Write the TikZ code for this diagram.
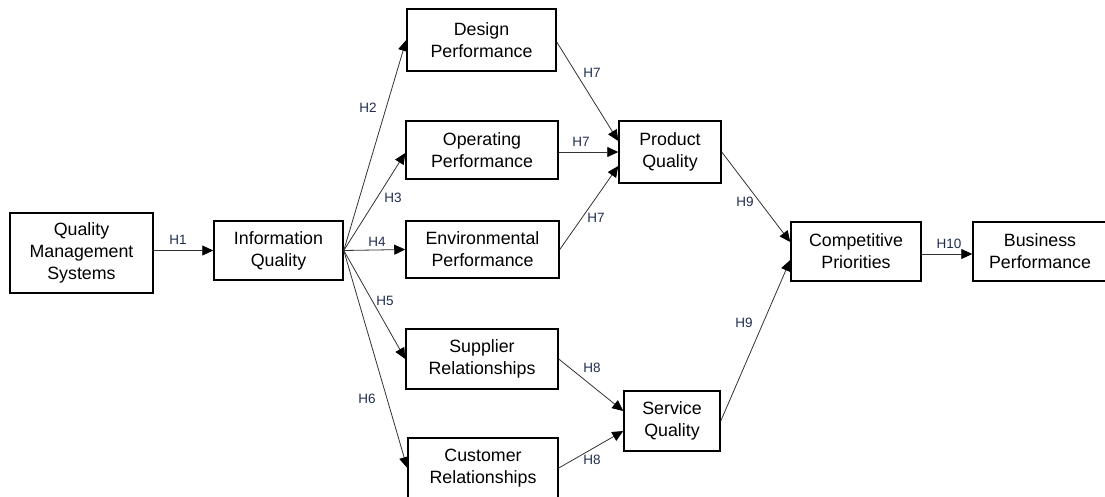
\documentclass[tikz,border=0pt]{standalone}
\usepackage{fontspec}
\setmainfont{Liberation Sans}
\usetikzlibrary{arrows.meta}
\definecolor{lbl}{RGB}{31,45,80}
\definecolor{ln}{RGB}{50,50,50}
\begin{document}
\begin{tikzpicture}[x=1pt,y=-1pt,
  box/.style={draw=black,line width=1.5pt,fill=white,align=center,inner sep=0pt,
    font=\fontsize{17.8}{22}\selectfont},
  conn/.style={draw=ln,line width=0.8pt,-{Triangle[length=11pt,width=10pt,color=black]}},
  hlab/.style={text=lbl,font=\fontsize{13.5}{15}\selectfont,inner sep=0pt}]
\useasboundingbox (0,0) rectangle (1105,496);
\node[box,minimum width=143pt,minimum height=80pt] (qms) at (81.5,253) {Quality\\Management\\Systems};
\node[box,minimum width=129pt,minimum height=59pt] (iq) at (278.5,250.5) {Information\\Quality};
\node[box,minimum width=149pt,minimum height=62pt] (des) at (481.5,40) {Design\\Performance};
\node[box,minimum width=152pt,minimum height=58pt] (op) at (482,150) {Operating\\Performance};
\node[box,minimum width=153pt,minimum height=57pt] (env) at (482.5,249.5) {Environmental\\Performance};
\node[box,minimum width=152pt,minimum height=60pt] (sup) at (482,359) {Supplier\\Relationships};
\node[box,minimum width=150pt,minimum height=60pt] (cus) at (483,468) {Customer\\Relationships};
\node[box,minimum width=102pt,minimum height=62pt] (pq) at (670,152) {Product\\Quality};
\node[box,minimum width=96pt,minimum height=60pt] (sq) at (672,421) {Service\\Quality};
\node[box,minimum width=130pt,minimum height=59pt] (cp) at (856,251.5) {Competitive\\Priorities};
\node[box,minimum width=134pt,minimum height=59pt] (bp) at (1040,251.5) {Business\\Performance};

\draw[conn] (qms.east |- iq.west) -- (iq.west);
\draw[conn] (iq.east) -- (des.west);
\draw[conn] (iq.east) -- ([yshift=-3pt]op.west);
\draw[conn] (iq.east) -- (env.west);
\draw[conn] (iq.east) -- (sup.west);
\draw[conn] (iq.east) -- (cus.west);
\draw[conn] ([yshift=-2pt]des.east) -- ([yshift=11pt]pq.west);
\draw[conn] ([yshift=-2pt]op.east) -- (pq.west);
\draw[conn] (env.east) -- ([yshift=-14pt]pq.west);
\draw[conn] (sup.east) -- ([yshift=10pt]sq.west);
\draw[conn] (cus.east) -- ([yshift=-10pt]sq.west);
\draw[conn] (pq.east) -- ([yshift=9.5pt]cp.west);
\draw[conn] (sq.east) -- ([yshift=-8.5pt]cp.west);
\draw[conn] ([yshift=-2.5pt]cp.east) -- ([yshift=-2.5pt]bp.west);

\node[hlab] (h1) at (178,240) {H1};
\node[hlab] (h2) at (368,108) {H2};
\node[hlab] (h3) at (393,198) {H3};
\node[hlab] (h4) at (377,242) {H4};
\node[hlab] (h5) at (385,301) {H5};
\node[hlab] (h6) at (367,399) {H6};
\node[hlab] (h7a) at (592,73) {H7};
\node[hlab] (h7b) at (581,142) {H7};
\node[hlab] (h7c) at (596,218) {H7};
\node[hlab] (h8a) at (592,368) {H8};
\node[hlab] (h8b) at (592,460) {H8};
\node[hlab] (h9a) at (745,202) {H9};
\node[hlab] (h9b) at (744,323) {H9};
\node[hlab] (h10) at (949,244) {H10};
\end{tikzpicture}
\end{document}
